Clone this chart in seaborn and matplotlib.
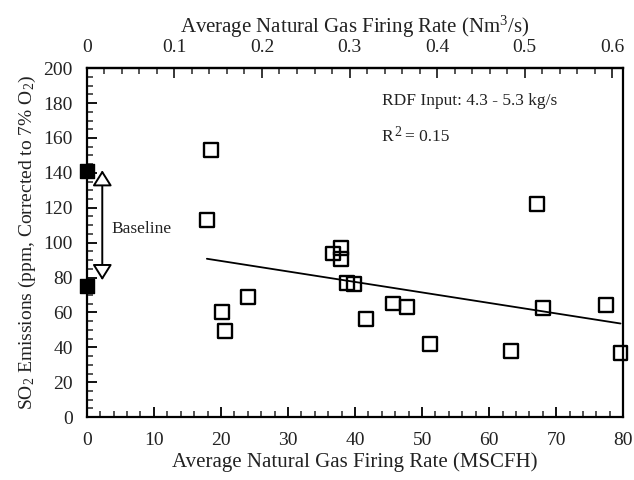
import numpy as np
import pandas as pd
import matplotlib
matplotlib.use("Agg")
import matplotlib.pyplot as plt
import seaborn as sns

# Data
gas_mscfh = [18.5, 17.9, 24.1, 20.1, 20.6, 67.2, 37.9, 36.7, 37.9, 38.8,
             39.9, 45.7, 47.8, 41.7, 51.2, 63.2, 68.0, 77.4, 79.6]
so2_ppm = [153.0, 113.0, 68.6, 60.0, 49.3, 122.0, 96.7, 93.8, 90.4, 77.0,
           76.2, 65.1, 63.2, 56.2, 41.8, 38.0, 62.3, 64.2, 36.5]
baseline_x = [0.0, 0.0]
baseline_y = [141.0, 75.0]
arrow_span = [141.5, 78.5]
x_ticks = [0, 10, 20, 30, 40, 50, 60, 70, 80]
y_ticks = [0, 20, 40, 60, 80, 100, 120, 140, 160, 180, 200]
top_ticks = [0, 0.1, 0.2, 0.3, 0.4, 0.5, 0.6]
mscfh_to_nm3s = 0.6126 / 80.0

df = pd.DataFrame({"gas": gas_mscfh, "so2": so2_ppm})
base = pd.DataFrame({"gas": baseline_x, "so2": baseline_y})

sns.set_theme(style="ticks")
plt.rcParams["font.family"] = ["Liberation Serif", "DejaVu Serif"]
plt.rcParams["mathtext.fontset"] = "custom"
plt.rcParams["mathtext.rm"] = "Liberation Serif"
plt.rcParams["mathtext.it"] = "Liberation Serif:italic"

TXT = "#222222"
fig = plt.figure(figsize=(6.34, 4.80), dpi=100)
ax = fig.add_axes([0.137, 0.131, 0.983 - 0.137, 0.858 - 0.131])

sns.regplot(data=df, x="gas", y="so2", ax=ax, scatter=False, ci=None,
            truncate=True, line_kws=dict(color="black", lw=1.3, zorder=2))
sns.scatterplot(data=df, x="gas", y="so2", ax=ax, marker="s", s=100,
                facecolors="none", edgecolors="black", linewidth=1.7,
                zorder=3, clip_on=False)
sns.scatterplot(data=base, x="gas", y="so2", ax=ax, marker="s", s=100,
                color="black", edgecolor="black", linewidth=1.0,
                zorder=4, clip_on=False)

ax.annotate("", xy=(2.3, arrow_span[0]), xytext=(2.3, arrow_span[1]),
            arrowprops=dict(arrowstyle="<|-|>,head_length=0.8,head_width=0.5",
                            fc="white", ec="black", lw=1.4,
                            shrinkA=0, shrinkB=0))
ax.text(3.6, 108, "Baseline", fontsize=12.5, va="center", ha="left", color=TXT)
ax.text(44, 181, "RDF Input: 4.3 - 5.3 kg/s", fontsize=12.5, va="center", color=TXT)
r_txt = ax.text(44, 158, "R", fontsize=12.5, va="baseline", color=TXT)
ax.annotate("2", xy=(1.0, 1.0), xycoords=r_txt, xytext=(0.5, 2.5),
            textcoords="offset points", ha="left", va="top",
            fontsize=10, color=TXT)
ax.annotate("= 0.15", xy=(1.0, 0.0), xycoords=r_txt, xytext=(8.5, 0),
            textcoords="offset points", ha="left", va="bottom",
            fontsize=12.5, color=TXT)

ax.set_xlim(0, 80)
ax.set_ylim(0, 200)
ax.set_xticks(x_ticks)
ax.set_yticks(y_ticks)
ax.set_xticks(np.arange(0, 80.1, 2), minor=True)
ax.set_yticks(np.arange(0, 200.1, 5), minor=True)
ax.tick_params(axis="x", which="major", direction="in", length=7, width=1.3,
               labelsize=14, pad=11, color="black", labelcolor=TXT)
ax.tick_params(axis="y", which="major", direction="in", length=7, width=1.3,
               labelsize=14, pad=10, color="black", labelcolor=TXT)
ax.tick_params(axis="both", which="minor", direction="in", length=4, width=1.1)
ax.set_xlabel("Average Natural Gas Firing Rate (MSCFH)", fontsize=15,
              labelpad=2, color=TXT)
ax.set_ylabel("SO$_2$ Emissions (ppm, Corrected to 7% O$_2$)", fontsize=14,
              labelpad=4, color=TXT)
for s in ax.spines.values():
    s.set_visible(True)
    s.set_linewidth(1.6)
    s.set_color("black")

sec = ax.secondary_xaxis("top", functions=(lambda v: v * mscfh_to_nm3s,
                                           lambda v: v / mscfh_to_nm3s))
sec.set_xticks(top_ticks)
sec.set_xticklabels(["0", "0.1", "0.2", "0.3", "0.4", "0.5", "0.6"])
sec.set_xticks(np.arange(0, 0.61, 0.02), minor=True)
sec.tick_params(axis="x", which="major", direction="in", length=7, width=1.3,
                labelsize=14, pad=9, labelcolor=TXT)
sec.tick_params(axis="x", which="minor", direction="in", length=4, width=1.1)
sec.set_xlabel("Average Natural Gas Firing Rate (Nm$^3$/s)", fontsize=15,
               labelpad=4, color=TXT)
sec.spines["top"].set_linewidth(1.6)

fig.savefig("out.png", dpi=100)
